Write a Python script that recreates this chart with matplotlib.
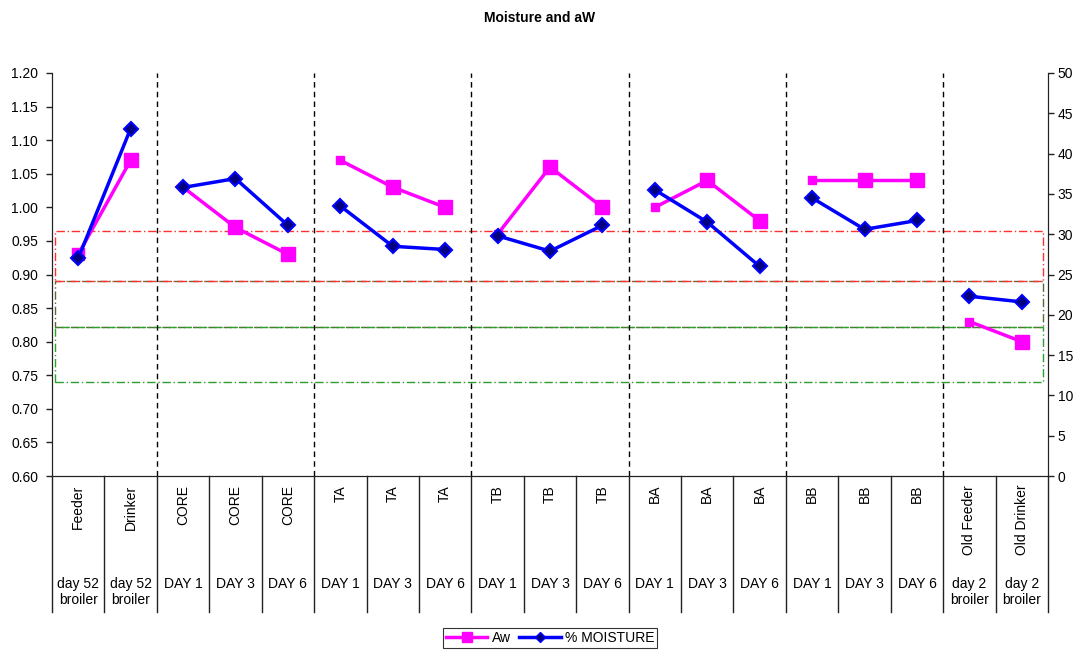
import matplotlib
matplotlib.use("Agg")
import matplotlib.pyplot as plt
import matplotlib.transforms as mtransforms
from matplotlib.lines import Line2D
from matplotlib.patches import Rectangle

plt.rcParams['font.family'] = ['Liberation Sans', 'DejaVu Sans']

# sample sites and sampling day for each point
sites = ["Feeder", "Drinker", "CORE", "CORE", "CORE", "TA", "TA", "TA",
         "TB", "TB", "TB", "BA", "BA", "BA", "BB", "BB", "BB",
         "Old Feeder", "Old Drinker"]
days = ["day 52\nbroiler", "day 52\nbroiler", "DAY 1", "DAY 3", "DAY 6",
        "DAY 1", "DAY 3", "DAY 6", "DAY 1", "DAY 3", "DAY 6",
        "DAY 1", "DAY 3", "DAY 6", "DAY 1", "DAY 3", "DAY 6",
        "day 2\nbroiler", "day 2\nbroiler"]
groups = [[0, 1], [2, 3, 4], [5, 6, 7], [8, 9, 10], [11, 12, 13],
          [14, 15, 16], [17, 18]]

aw = [0.93, 1.07, 1.03, 0.97, 0.93, 1.07, 1.03, 1.00, 0.96, 1.06, 1.00,
      1.00, 1.04, 0.98, 1.04, 1.04, 1.04, 0.83, 0.80]
moisture = [27.0, 43.1, 35.8, 36.9, 31.1, 33.5, 28.5, 28.1, 29.8, 27.9, 31.1,
            35.5, 31.5, 26.0, 34.5, 30.6, 31.7, 22.3, 21.6]

# aw reference bands (low, high); middle one drawn first so the others sit on top
bands = [(0.822, 0.89, '#556B2F'), (0.89, 0.965, '#FF3030'), (0.74, 0.822, '#2E9E2E')]

n = len(sites)
fig = plt.figure(figsize=(10.79, 6.51), dpi=100)
ax = fig.add_axes([52 / 1079, 175 / 651, 996 / 1079, 403 / 651])
ax2 = ax.twinx()

ax.set_xlim(-0.5, n - 0.5)
ax.set_ylim(0.60, 1.20)
ax2.set_ylim(0, 50)
ax.set_yticks([0.60 + 0.05 * i for i in range(13)])
ax.set_yticklabels([f"{0.60 + 0.05 * i:.2f}" for i in range(13)])
ax2.set_yticks(range(0, 51, 5))
ax.set_xticks([])
for a in (ax, ax2):
    a.spines['top'].set_visible(False)
    a.tick_params(axis='y', labelsize=10, direction='out', length=4, width=1,
                  colors='#222222', labelcolor='black')
    for s in a.spines.values():
        s.set_color('#222222')
ax.tick_params(axis='y', pad=6)
ax2.tick_params(axis='y', pad=3)

# reference bands as dash-dot boxes
for k, (lo, hi, col) in enumerate(bands):
    ax.add_patch(Rectangle((-0.45, lo), n - 0.15, hi - lo, fill=False, edgecolor=col,
                           linestyle=(0, (6, 2, 1, 2)), linewidth=1.0, zorder=1 + 0.1 * k))

# group separators
for g in groups[1:]:
    ax.axvline(g[0] - 0.5, color='black', linestyle=(0, (4, 3)), linewidth=1, zorder=1.5)

# Aw series
for g in groups:
    xs = g
    ys = [aw[i] for i in g]
    ax.plot(xs, ys, color='#FF00FF', linewidth=2.5, zorder=3)
    ax.plot(xs[1:], ys[1:], 's', color='#FF00FF', markersize=9.5, zorder=4)
    first = 8 if g[0] == 0 else 6
    ax.plot(xs[:1], ys[:1], 's', color='#FF00FF', markersize=first, zorder=4)

# moisture series
for g in groups:
    ax2.plot(g, [moisture[i] for i in g], color='#0000FF', linewidth=2.5,
             marker='D', markersize=7, markerfacecolor='#000080',
             markeredgecolor='#0000FF', markeredgewidth=1.5, zorder=3)

# category table below the axis
trans = mtransforms.blended_transform_factory(ax.transData, ax.transAxes)
for k in range(n + 1):
    ax.plot([k - 0.5, k - 0.5], [0, -0.337], transform=trans, color='#222222',
            linewidth=1, clip_on=False)
for i in range(n):
    ax.text(i, -0.022, sites[i], transform=trans, rotation=90, ha='center', va='top',
            fontsize=10, color='black')
    ax.text(i, -0.25, days[i], transform=trans, ha='center', va='top',
            fontsize=10, color='black', linespacing=1.25, multialignment='center')

fig.text(540 / 1079, 1 - 18 / 651, "Moisture and aW", ha='center', va='center',
         fontsize=10, fontweight='bold')

handles = [Line2D([], [], color='#FF00FF', linewidth=2.5, marker='s', markersize=7),
           Line2D([], [], color='#0000FF', linewidth=2.5, marker='D', markersize=5,
                  markerfacecolor='#000080', markeredgecolor='#0000FF')]
leg = fig.legend(handles, ["Aw", "% MOISTURE"], loc='center', ncol=2,
                 bbox_to_anchor=(550 / 1079, 1 - 638 / 651), frameon=True,
                 fancybox=False, edgecolor='black', fontsize=10, handlelength=3,
                 columnspacing=0.6, handletextpad=0.3, borderpad=0.2,
                 borderaxespad=0)
leg.get_frame().set_linewidth(0.8)

fig.savefig("out.png", dpi=100)
